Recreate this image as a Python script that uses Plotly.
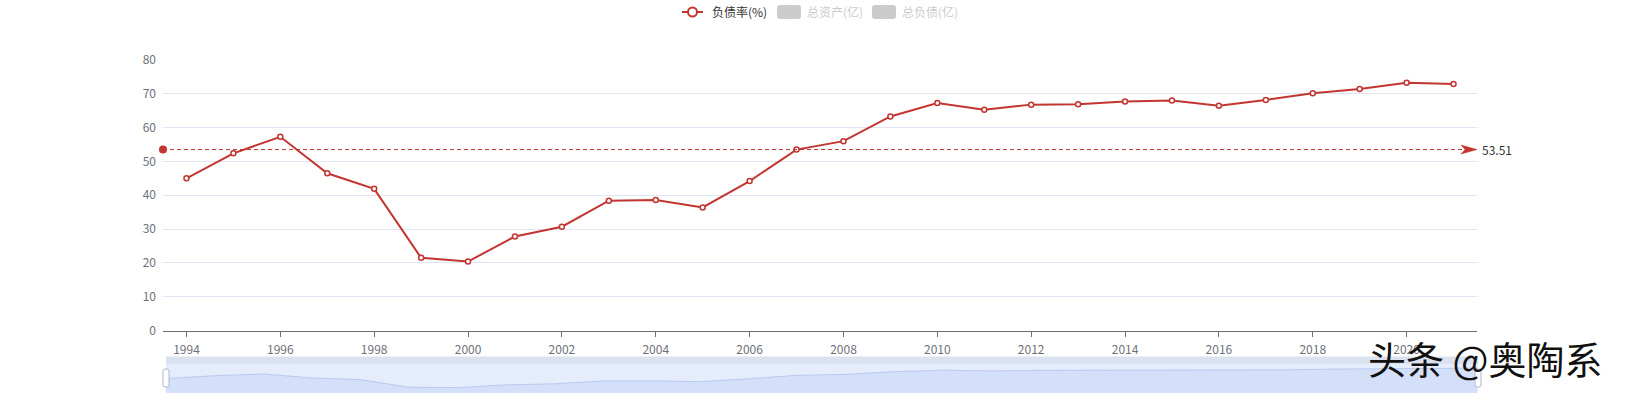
import numpy as np
import plotly.graph_objects as go

# data
years = list(range(1994, 2022))
debt_ratio = [
    45.0, 52.4, 57.3, 46.5, 41.9, 21.5, 20.4, 27.8, 30.7, 38.4,
    38.6, 36.4, 44.2, 53.5, 56.0, 63.3, 67.3, 65.3, 66.8, 66.9,
    67.7, 68.0, 66.5, 68.2, 70.2, 71.4, 73.3, 72.9,
]
legend_names = ["负债率(%)", "总资产(亿)", "总负债(亿)"]
tick_years = years[::2]
watermark = "头条 @奥陶系"

RED = "#c23531"
AXIS = "#6E7079"
FONT = "Noto Sans CJK SC"

W, H = 1640, 401
L, R, T, B = 163, 163, 60, 8
pw, ph = W - L - R, H - T - B


def fx(px):
    # page pixel -> paper x
    return (px - L) / pw


def fy(py):
    # page pixel -> paper y
    return (H - B - py) / ph


def rrect(x0, y0, x1, y1, r):
    pts = [
        ("M", x0 + r, y0), ("L", x1 - r, y0), ("Q", x1, y0, x1, y0 + r),
        ("L", x1, y1 - r), ("Q", x1, y1, x1 - r, y1), ("L", x0 + r, y1),
        ("Q", x0, y1, x0, y1 - r), ("L", x0, y0 + r), ("Q", x0, y0, x0 + r, y0),
    ]
    s = ""
    for p in pts:
        cmd, vals = p[0], p[1:]
        coords = []
        for i in range(0, len(vals), 2):
            coords.append(f"{fx(vals[i]):.5f},{fy(vals[i + 1]):.5f}")
        s += cmd + " ".join(coords) + " "
    return s + "Z"


mean_val = float(np.mean(debt_ratio))

fig = go.Figure()

fig.add_trace(go.Scatter(
    x=years, y=debt_ratio, mode="lines+markers", name=legend_names[0],
    line=dict(color=RED, width=2),
    marker=dict(symbol="circle", size=5, color="white", line=dict(color=RED, width=1.5)),
    showlegend=False,
))

# slider data shadow
fig.add_trace(go.Scatter(
    x=years, y=debt_ratio, mode="lines", fill="tozeroy",
    line=dict(color="#b9c9ef", width=1), fillcolor="#d4e0f9",
    xaxis="x2", yaxis="y2", showlegend=False, hoverinfo="skip",
))

shapes = []
annotations = []

# mean line
shapes.append(dict(type="line", xref="x domain", yref="y", x0=0, x1=1, y0=mean_val, y1=mean_val,
                   line=dict(color=RED, width=1, dash="4px,3px")))
shapes.append(dict(type="circle", xref="x domain", yref="y", xsizemode="pixel", ysizemode="pixel",
                   xanchor=0, yanchor=mean_val, x0=-4, x1=4, y0=-4, y1=4,
                   fillcolor=RED, line=dict(color=RED, width=0)))
shapes.append(dict(type="path", xref="x domain", yref="y", xsizemode="pixel", ysizemode="pixel",
                   xanchor=1, yanchor=mean_val, path="M0,0 L-16,4.5 L-12,0 L-16,-4.5 Z",
                   fillcolor=RED, line=dict(color=RED, width=0.5)))
annotations.append(dict(x=1, xref="x domain", y=mean_val, yref="y", xanchor="left", xshift=3,
                        yanchor="middle", showarrow=False, text=f"{mean_val:.2f}",
                        font=dict(size=12, color="#333", family=FONT)))

# legend (drawn by hand, two items switched off)
shapes.append(dict(type="line", xref="paper", yref="paper", x0=fx(682), x1=fx(703),
                   y0=fy(12), y1=fy(12), line=dict(color=RED, width=2)))
shapes.append(dict(type="circle", xref="paper", yref="paper", x0=fx(688), x1=fx(697),
                   y0=fy(16.5), y1=fy(7.5), fillcolor="white", line=dict(color=RED, width=2)))
annotations.append(dict(x=fx(710), y=fy(12), xref="paper", yref="paper", xanchor="left",
                        yanchor="middle", showarrow=False, text=legend_names[0],
                        font=dict(size=12, color="#333", family=FONT)))
for x0, tx, name in [(777, 805, legend_names[1]), (872, 900, legend_names[2])]:
    shapes.append(dict(type="path", xref="paper", yref="paper", path=rrect(x0, 5, x0 + 24, 19, 3),
                       fillcolor="#ccc", line=dict(width=0)))
    annotations.append(dict(x=fx(tx), y=fy(12), xref="paper", yref="paper", xanchor="left",
                            yanchor="middle", showarrow=False, text=name,
                            font=dict(size=12, color="#ccc", family=FONT)))

# slider frame
shapes.append(dict(type="rect", xref="paper", yref="paper", x0=fx(166), x1=fx(1478),
                   y0=fy(393), y1=fy(364), fillcolor="#e5ecfc", line=dict(width=0), layer="below"))
shapes.append(dict(type="rect", xref="paper", yref="paper", x0=fx(166), x1=fx(1478),
                   y0=fy(364), y1=fy(356.5), fillcolor="#dae1ef", line=dict(width=0), layer="below"))
for hx in (166, 1478):
    shapes.append(dict(type="path", xref="paper", yref="paper",
                       path=rrect(hx - 3, 369, hx + 3, 387, 2),
                       fillcolor="white", line=dict(color="#acb8d1", width=1)))

# watermark
annotations.append(dict(x=fx(1366), y=fy(357), xref="paper", yref="paper", xanchor="left",
                        yanchor="middle", showarrow=False, text=watermark,
                        font=dict(size=38, color="#111", family=FONT)))

fig.update_layout(
    width=W, height=H,
    margin=dict(l=L, r=R, t=T, b=B),
    paper_bgcolor="white", plot_bgcolor="white",
    font=dict(family=FONT, size=12, color=AXIS),
    showlegend=False,
    xaxis=dict(range=[1993.5, 2021.5], tickvals=tick_years, showgrid=False, zeroline=False,
               showline=True, linecolor=AXIS, linewidth=1, ticks="outside", ticklen=5,
               tickcolor=AXIS, ticklabelstandoff=3, tickfont=dict(size=12, color=AXIS),
               domain=[0, 1], anchor="y", automargin=False),
    yaxis=dict(range=[0, 80], dtick=10, showgrid=True, gridcolor="#E0E6F1", zeroline=False,
               showline=False, ticks="", ticklabelstandoff=6, tickfont=dict(size=12, color=AXIS),
               domain=[fy(330.5), 1], anchor="x", automargin=False),
    xaxis2=dict(range=[years[0], years[-1]], domain=[fx(166), 1], anchor="y2",
                visible=False, showgrid=False, zeroline=False, automargin=False),
    yaxis2=dict(range=[6, 84], domain=[0, fy(364)], anchor="x2",
                visible=False, showgrid=False, zeroline=False, automargin=False),
    shapes=shapes,
    annotations=annotations,
)

# drop the default 8px page margin so the figure fills the window exactly
fig.write_html("out.html", config={"displayModeBar": False},
               post_script="document.body.style.margin='0';")
